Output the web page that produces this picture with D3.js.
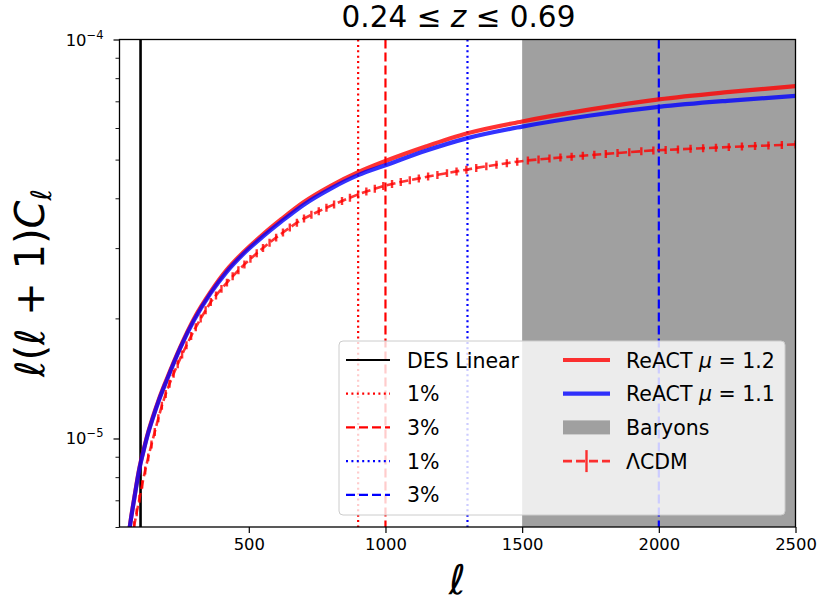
<!DOCTYPE html>
<html>
<head>
<meta charset="utf-8">
<script src="https://cdn.jsdelivr.net/npm/d3@7"></script>
<style>
body { margin: 0; background: #fff; }
svg { display: block; }
text { font-family: "DejaVu Sans", sans-serif; fill: #000; }
</style>
</head>
<body>
<svg id="chart" width="820" height="603"></svg>
<script>
// ReACT predictions (values in units of 1e-5)
var reactEll = [60, 70, 80, 90, 100, 115, 130, 150, 170, 200, 250, 300, 360, 420, 480,
    550, 620, 700, 800, 900, 1000, 1150, 1300, 1500, 1750, 2000, 2250, 2500];
var reactMu12 = [0.572, 0.638, 0.703, 0.774, 0.845, 0.935, 1.026, 1.137, 1.248, 1.41, 1.70, 2.0, 2.33, 2.65, 2.93,
    3.24, 3.55, 3.91, 4.30, 4.65, 4.96, 5.40, 5.82, 6.23, 6.68, 7.08, 7.38, 7.64];
var reactMu11 = [0.57, 0.635, 0.70, 0.77, 0.84, 0.93, 1.02, 1.13, 1.24, 1.40, 1.69, 1.98, 2.31, 2.62, 2.90,
    3.20, 3.50, 3.85, 4.23, 4.57, 4.84, 5.27, 5.66, 6.05, 6.45, 6.78, 7.02, 7.22];

// LCDM with error bars (units of 1e-5)
var lcdmEll = [72, 81, 90, 100, 110, 121, 132, 144, 156, 169, 182, 196, 210, 225, 240, 256, 272, 289, 306, 324,
    342, 361, 380, 400, 420, 441, 462, 484, 506, 529, 552, 576, 600, 625, 650, 676, 702, 729, 756, 784,
    812, 841, 870, 900, 930, 961, 992, 1024, 1056, 1089, 1122, 1156, 1190, 1225, 1260, 1296, 1332, 1369, 1406, 1444,
    1482, 1521, 1560, 1600, 1640, 1681, 1722, 1764, 1806, 1849, 1892, 1936, 1980, 2025, 2070, 2116, 2162, 2209, 2256, 2304,
    2352, 2401, 2450, 2500];
var lcdmVal = [0.556, 0.606, 0.653, 0.706, 0.767, 0.832, 0.897, 0.966, 1.039, 1.124, 1.209, 1.293, 1.371, 1.454, 1.536, 1.624, 1.713, 1.806, 1.900, 1.998,
    2.096, 2.199, 2.284, 2.372, 2.459, 2.550, 2.640, 2.731, 2.820, 2.912, 3.002, 3.096, 3.188, 3.284, 3.378, 3.474, 3.560, 3.636, 3.711, 3.787,
    3.862, 3.938, 4.013, 4.091, 4.159, 4.227, 4.294, 4.346, 4.393, 4.440, 4.487, 4.534, 4.579, 4.626, 4.672, 4.718, 4.767, 4.810, 4.853, 4.898,
    4.940, 4.977, 5.004, 5.032, 5.060, 5.087, 5.114, 5.141, 5.168, 5.194, 5.221, 5.247, 5.273, 5.288, 5.305, 5.323, 5.340, 5.357, 5.375, 5.392,
    5.409, 5.425, 5.442, 5.460];
var lcdmRelErr = 0.023;

var desLinear = 104;
var scaleCuts = [{ell: 900, color: "red", dash: "2,3.4"}, {ell: 1000, color: "red", dash: "9,4"},
    {ell: 1300, color: "blue", dash: "2,3.4"}, {ell: 2000, color: "blue", dash: "9,4"}];
var baryonRange = [1500, 2500];

var xDomain = [27, 2500], yDomain = [6e-6, 1e-4];
var xTicks = [500, 1000, 1500, 2000, 2500];
var yMajor = [{v: 1e-5, exp: "−5"}, {v: 1e-4, exp: "−4"}];
var yMinor = [6e-6, 7e-6, 8e-6, 9e-6, 2e-5, 3e-5, 4e-5, 5e-5, 6e-5, 7e-5, 8e-5, 9e-5];

var pLeft = 119.5, pRight = 795.5, pTop = 39.5, pBottom = 527;
var svg = d3.select("#chart");

var x = d3.scaleLinear().domain(xDomain).range([pLeft, pRight]);
var y = d3.scaleLog().domain(yDomain).range([pBottom, pTop]);

svg.append("clipPath").attr("id", "plotclip")
    .append("rect").attr("x", pLeft).attr("y", pTop).attr("width", pRight - pLeft).attr("height", pBottom - pTop);

var plot = svg.append("g").attr("clip-path", "url(#plotclip)");

// baryon shaded band
plot.append("rect")
    .attr("x", x(baryonRange[0])).attr("y", pTop)
    .attr("width", x(baryonRange[1]) - x(baryonRange[0])).attr("height", pBottom - pTop)
    .attr("fill", "#a0a0a0");

plot.append("line")
    .attr("x1", x(desLinear)).attr("x2", x(desLinear)).attr("y1", pTop).attr("y2", pBottom)
    .attr("stroke", "black").attr("stroke-width", 2.6);

scaleCuts.forEach(function (c) {
    plot.append("line")
        .attr("x1", x(c.ell)).attr("x2", x(c.ell)).attr("y1", pTop).attr("y2", pBottom)
        .attr("stroke", c.color).attr("stroke-width", 2.2).attr("stroke-dasharray", c.dash);
});

var line = d3.line()
    .x(function (d) { return x(d[0]); })
    .y(function (d) { return y(d[1] * 1e-5); })
    .curve(d3.curveMonotoneX);

plot.append("path").datum(d3.zip(reactEll, reactMu12))
    .attr("d", line).attr("fill", "none")
    .attr("stroke", "red").attr("stroke-opacity", 0.8).attr("stroke-width", 4.2);
plot.append("path").datum(d3.zip(reactEll, reactMu11))
    .attr("d", line).attr("fill", "none")
    .attr("stroke", "blue").attr("stroke-opacity", 0.8).attr("stroke-width", 4.2);

var lcdm = d3.zip(lcdmEll, lcdmVal);
plot.append("path").datum(lcdm)
    .attr("d", d3.line().x(function (d) { return x(d[0]); }).y(function (d) { return y(d[1] * 1e-5); }))
    .attr("fill", "none").attr("stroke", "red").attr("stroke-opacity", 0.8)
    .attr("stroke-width", 2.6).attr("stroke-dasharray", "9,4");
plot.selectAll("line.err").data(lcdm).enter().append("line")
    .attr("class", "err")
    .attr("x1", function (d) { return x(d[0]); })
    .attr("x2", function (d) { return x(d[0]); })
    .attr("y1", function (d) { return y(d[1] * 1e-5 * (1 - lcdmRelErr)); })
    .attr("y2", function (d) { return y(d[1] * 1e-5 * (1 + lcdmRelErr)); })
    .attr("stroke", "red").attr("stroke-opacity", 0.8).attr("stroke-width", 2.4);

// axes
var xAxis = svg.append("g").attr("transform", "translate(0," + pBottom + ")")
    .call(d3.axisBottom(x).tickValues(xTicks).tickFormat(d3.format("d")).tickSize(6).tickPadding(5));
xAxis.select(".domain").remove();
xAxis.selectAll("line").attr("stroke-width", 1.2);
xAxis.selectAll("text").style("font-size", "16.4px").attr("fill", "#222");

var yMinorAxis = svg.append("g").attr("transform", "translate(" + pLeft + ",0)")
    .call(d3.axisLeft(y).tickValues(yMinor).tickSize(4).tickFormat(""));
yMinorAxis.select(".domain").remove();
yMinorAxis.selectAll("line").attr("stroke-width", 0.9);

var yMajorAxis = svg.append("g").attr("transform", "translate(" + pLeft + ",0)")
    .call(d3.axisLeft(y).tickValues(yMajor.map(function (d) { return d.v; })).tickSize(6).tickFormat(""));
yMajorAxis.select(".domain").remove();
yMajorAxis.selectAll("line").attr("stroke-width", 1.2);

yMajor.forEach(function (d) {
    var t = svg.append("text")
        .attr("x", pLeft - 16).attr("y", y(d.v) + 6)
        .attr("text-anchor", "end").style("font-size", "16.4px").attr("fill", "#222");
    t.append("tspan").text("10");
    t.append("tspan").attr("dy", -7).style("font-size", "11.5px").text(d.exp);
});

svg.append("rect")
    .attr("x", pLeft).attr("y", pTop).attr("width", pRight - pLeft).attr("height", pBottom - pTop)
    .attr("fill", "none").attr("stroke", "black").attr("stroke-width", 1.3);

// title and labels
var title = svg.append("text").attr("x", (pLeft + pRight) / 2 + 1).attr("y", 27)
    .attr("text-anchor", "middle").style("font-size", "29.5px");
title.append("tspan").text("0.24 ≤ ");
title.append("tspan").style("font-style", "italic").text("z");
title.append("tspan").text(" ≤ 0.69");

svg.append("text").attr("x", (pLeft + pRight) / 2).attr("y", 594)
    .attr("text-anchor", "middle").style("font-size", "41px").style("font-style", "italic").text("ℓ");

var yl = svg.append("text")
    .attr("transform", "translate(44,283) rotate(-90)")
    .attr("text-anchor", "middle").style("font-size", "40px");
yl.append("tspan").style("font-style", "italic").text("ℓ");
yl.append("tspan").text("(");
yl.append("tspan").style("font-style", "italic").text("ℓ");
yl.append("tspan").text(" + 1)");
yl.append("tspan").style("font-style", "italic").text("C");
yl.append("tspan").attr("dy", 7).style("font-size", "28px").style("font-style", "italic").text("ℓ");

// legend
var lg = svg.append("g");
lg.append("rect")
    .attr("x", 339).attr("y", 341).attr("width", 446).attr("height", 174).attr("rx", 4)
    .attr("fill", "white").attr("fill-opacity", 0.8)
    .attr("stroke", "#cccccc").attr("stroke-width", 1);

var rowY = function (i) { return 360 + i * 33.7; };
var col1 = [
    {label: "DES Linear", color: "black", dash: null, w: 2.2},
    {label: "1%", color: "red", dash: "2,3.4", w: 2.2},
    {label: "3%", color: "red", dash: "9,4", w: 2.2},
    {label: "1%", color: "blue", dash: "2,3.4", w: 2.2},
    {label: "3%", color: "blue", dash: "9,4", w: 2.2}
];
col1.forEach(function (d, i) {
    lg.append("line").attr("x1", 346).attr("x2", 390).attr("y1", rowY(i)).attr("y2", rowY(i))
        .attr("stroke", d.color).attr("stroke-width", d.w).attr("stroke-dasharray", d.dash);
    lg.append("text").attr("x", 407).attr("y", rowY(i) + 7.5).style("font-size", "20.5px").text(d.label);
});

function mathLabel(t, name, val) {
    t.append("tspan").text(name + " ");
    t.append("tspan").style("font-style", "italic").text("μ");
    t.append("tspan").text(" = " + val);
}
[{color: "red", val: "1.2"}, {color: "blue", val: "1.1"}].forEach(function (d, i) {
    lg.append("line").attr("x1", 563).attr("x2", 610).attr("y1", rowY(i)).attr("y2", rowY(i))
        .attr("stroke", d.color).attr("stroke-opacity", 0.8).attr("stroke-width", 4.2);
    mathLabel(lg.append("text").attr("x", 626).attr("y", rowY(i) + 7.5).style("font-size", "20.5px"), "ReACT", d.val);
});
lg.append("rect").attr("x", 563).attr("y", rowY(2) - 7).attr("width", 47).attr("height", 14).attr("fill", "#a0a0a0");
lg.append("text").attr("x", 626).attr("y", rowY(2) + 7.5).style("font-size", "20.5px").text("Baryons");
lg.append("line").attr("x1", 563).attr("x2", 610).attr("y1", rowY(3)).attr("y2", rowY(3))
    .attr("stroke", "red").attr("stroke-opacity", 0.8).attr("stroke-width", 2.6).attr("stroke-dasharray", "9,4");
lg.append("line").attr("x1", 586.5).attr("x2", 586.5).attr("y1", rowY(3) - 11).attr("y2", rowY(3) + 11)
    .attr("stroke", "red").attr("stroke-opacity", 0.8).attr("stroke-width", 2.4);
lg.append("text").attr("x", 626).attr("y", rowY(3) + 7.5).style("font-size", "20.5px").text("ΛCDM");
</script>
</body>
</html>
